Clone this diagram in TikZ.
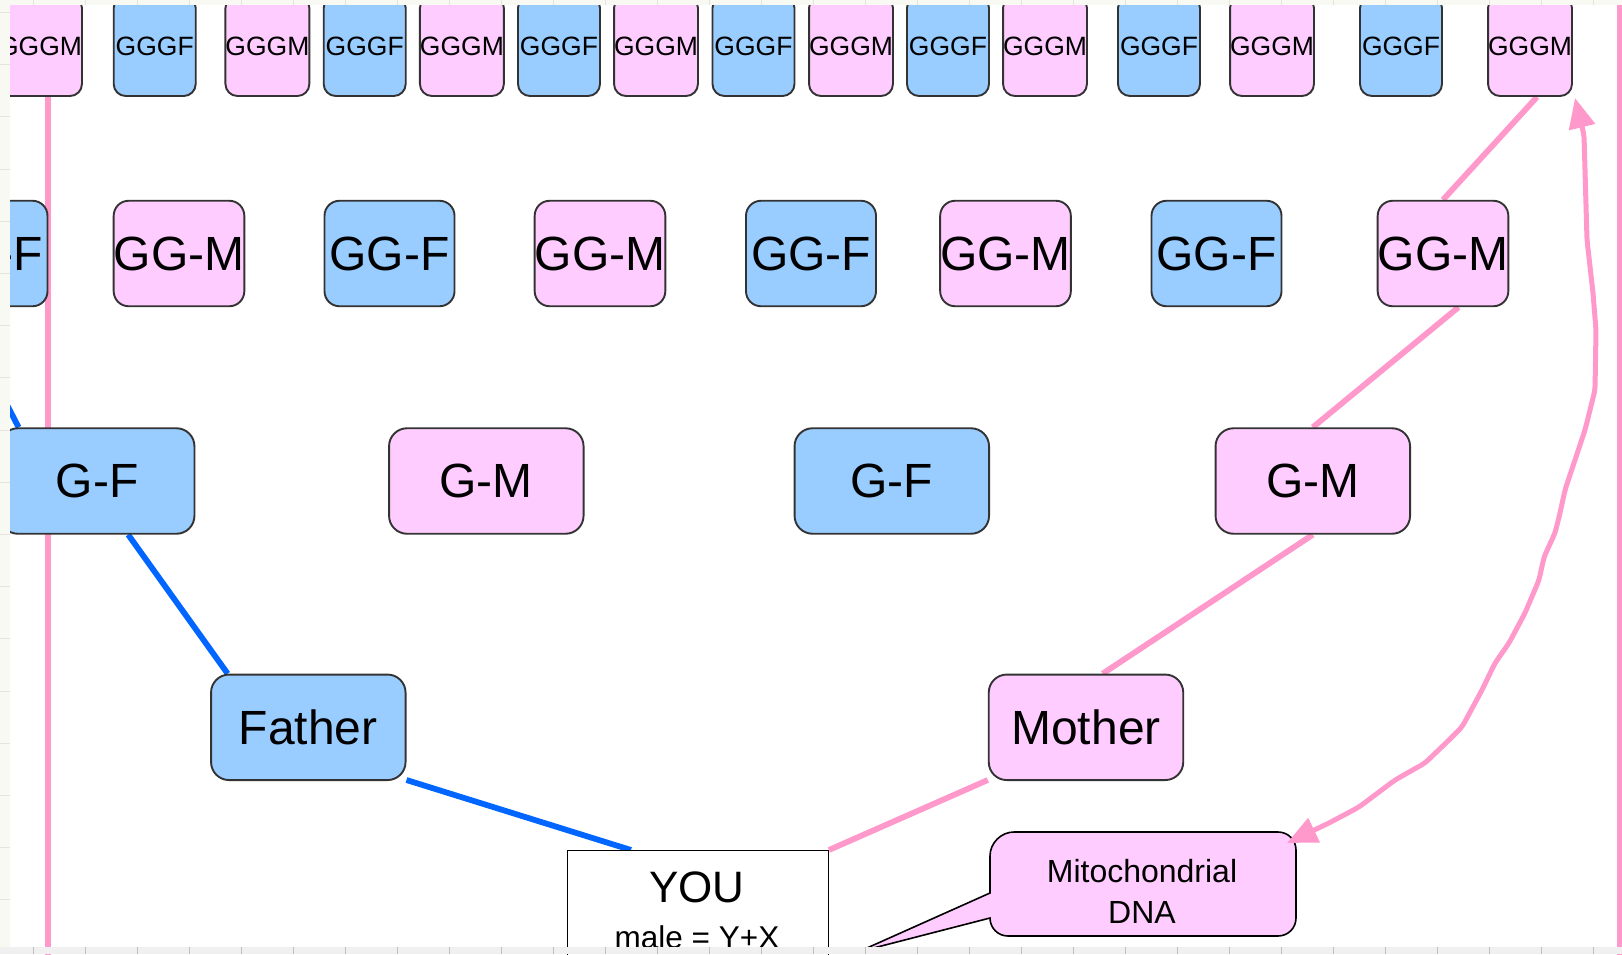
\documentclass[tikz,border=0pt]{standalone}
\usepackage{fontspec}
\setmainfont{Liberation Sans}
\usetikzlibrary{arrows.meta,calc}
\pgfdeclarelayer{bg}
\pgfsetlayers{bg,main}
\definecolor{pinkfill}{HTML}{FFCCFF}
\definecolor{bluefill}{HTML}{99CCFF}
\definecolor{pinkline}{HTML}{FF99CC}
\definecolor{blueline}{HTML}{0066FF}
\definecolor{boxline}{HTML}{333333}
\definecolor{stripfill}{HTML}{F9F9F3}
\definecolor{gridc}{HTML}{E4E4DC}
\begin{document}
\begin{tikzpicture}[x=1pt,y=-1pt,
  box/.style={draw=boxline, line width=1.9pt, inner sep=0pt, text=black},
  gen1/.style={box, rounded corners=12pt, minimum width=82pt, minimum height=100pt, font=\fontsize{26.5}{30}\selectfont},
  gen2/.style={box, rounded corners=15pt, minimum width=130pt, minimum height=105.5pt, font=\fontsize{48}{56}\selectfont},
  gen3/.style={box, rounded corners=18pt, minimum width=194.5pt, minimum height=105.5pt, font=\fontsize{48}{56}\selectfont},
  youbox/.style={draw=black, line width=1.4pt, fill=white, minimum width=260.5pt, minimum height=140pt, inner sep=0pt},
  pinkl/.style={draw=pinkline, line width=5.8pt},
  bluel/.style={draw=blueline, line width=5.8pt},
]
\useasboundingbox (0,0) rectangle (1622,954);
\begin{pgfonlayer}{bg}
\fill[white] (0,0) rectangle (1622,954);
\end{pgfonlayer}

% generation 1 (great-great-grandparents)
\foreach \n/\x/\c/\t in {1/40/pinkfill/GGGM,2/154.7/bluefill/GGGF,3/267.4/pinkfill/GGGM,4/364.7/bluefill/GGGF,5/461.9/pinkfill/GGGM,6/559/bluefill/GGGF,7/656/pinkfill/GGGM,8/753.5/bluefill/GGGF,9/851/pinkfill/GGGM,10/948/bluefill/GGGF,11/1045/pinkfill/GGGM,12/1159/bluefill/GGGF,13/1272/pinkfill/GGGM,14/1401/bluefill/GGGF,15/1530/pinkfill/GGGM}
  \node[gen1, fill=\c] (ggg\n) at (\x,46) {\t};

% generation 2
\foreach \n/\x/\c/\t in {1/-17.5/bluefill/GG-F,2/179/pinkfill/GG-M,3/389.5/bluefill/GG-F,4/600/pinkfill/GG-M,5/811/bluefill/GG-F,6/1005.5/pinkfill/GG-M,7/1216.5/bluefill/GG-F,8/1443/pinkfill/GG-M}
  \node[gen2, fill=\c] (gg\n) at (\x,253.5) {\t};

% generation 3
\foreach \n/\x/\c/\t in {1/97.2/bluefill/G-F,2/486.3/pinkfill/G-M,3/891.8/bluefill/G-F,4/1312.8/pinkfill/G-M}
  \node[gen3, fill=\c] (g\n) at (\x,481) {\t};

% parents
\node[gen3, fill=bluefill] (father) at (308.3,727.3) {Father};
\node[gen3, fill=pinkfill] (mother) at (1086,727.3) {Mother};

% you
\node[youbox, anchor=north west] (you) at (567,850) {};
\node[font=\fontsize{44}{50}\selectfont, inner sep=0pt] (youlbl) at (697,887.5) {YOU};
\node[font=\fontsize{31.5}{36}\selectfont, inner sep=0pt] (youxy) at (697,937) {male = Y+X};

% callout
\path[draw=black, fill=pinkfill, line width=1.6pt]
  (990,893) -- (858,952) -- (990,918)
  .. controls (990,928) and (998,936) .. (1008,936)
  -- (1278,936) .. controls (1288,936) and (1296,928) .. (1296,918)
  -- (1296,850) .. controls (1296,840) and (1288,832) .. (1278,832)
  -- (1014,832) .. controls (1001,832) and (990,843) .. (990,856)
  -- cycle;
\node[font=\fontsize{32}{36}\selectfont, inner sep=0pt] (mito1) at (1142,871) {Mitochondrial};
\node[font=\fontsize{32}{36}\selectfont, inner sep=0pt] (mito2) at (1142,912) {DNA};

% connectors
\coordinate (lpbot) at (47.6,960);
\coordinate (rptop) at (1619.5,-5);
\coordinate (rpbot) at (1619.5,960);
\begin{pgfonlayer}{bg}
\draw[pinkl] ($(ggg1.south)+(7.6,0)$) -- (lpbot);
\draw[bluel] ($(gg1.south)+(-26,0)$) -- ($(g1.north)+(-78.6,0)$);
\draw[bluel] ($(g1.south)+(31,0)$) -- ($(father.north)+(-80.7,0)$);
\draw[bluel] ($(father.south east)+(0,-1)$) -- ($(you.north west)+(64,0)$);
\draw[pinkl] ($(mother.south west)+(0,-1)$) -- (you.north east);
\draw[pinkl] (g4.south) -- ($(mother.north)+(16.7,0)$);
\draw[pinkl] ($(gg8.south)+(15.5,0)$) -- (g4.north);
\draw[pinkl] ($(ggg15.south)+(7,0)$) -- (gg8.north);
\end{pgfonlayer}

% mitochondrial inheritance arrow
\coordinate (mtop) at (1575,98);
\coordinate (mbot) at (1287,843);
\draw[draw=pinkline, line width=5pt, line join=round, rounded corners=5pt,
      {Triangle[length=30pt,width=26pt]}-{Triangle[length=30pt,width=26pt]}]
  (mtop) -- (1584,135) -- (1587,240) -- (1593,293) -- (1596,330) -- (1595,390)
  -- (1585,430) -- (1565,490) -- (1560,513) -- (1555,533) -- (1544,557)
  -- (1539,580) -- (1525,613) -- (1509,643) -- (1495,663) -- (1482,690)
  -- (1462,727) -- (1449,740) -- (1425,763) -- (1395,780) -- (1359,807)
  -- (1329,823) -- (mbot);

% right edge line
\draw[pinkl] (rptop) -- (rpbot);

% spreadsheet margins
\fill[stripfill] (0,0) rectangle (10,954);
\fill[stripfill] (0,0) rectangle (1622,5);
\fill[black!6] (0,947) rectangle (1622,954);
\foreach \k in {0,...,17}
  \draw[gridc, line width=0.8pt] (0,12.4+52.2*\k) -- (10,12.4+52.2*\k);
\foreach \k in {0,...,31}
  \draw[gridc, line width=0.8pt] (33+52*\k,0) -- (33+52*\k,5);
\foreach \k in {0,...,31}
  \draw[black!25, line width=0.8pt] (33+52*\k,947) -- (33+52*\k,954);
\end{tikzpicture}
\end{document}
